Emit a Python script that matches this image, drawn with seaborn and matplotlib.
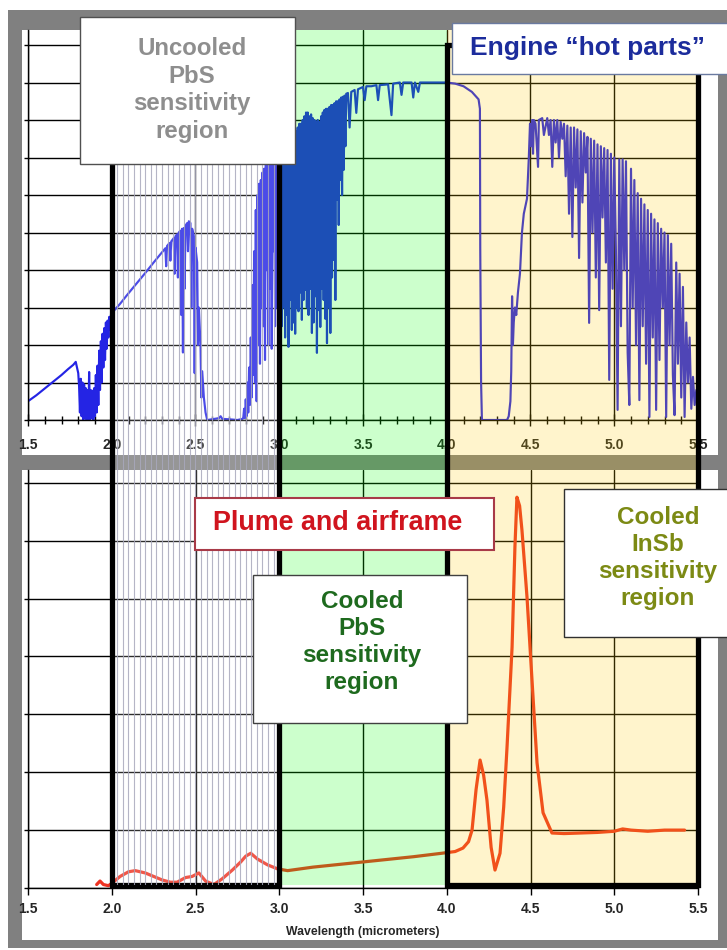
import numpy as np
import matplotlib
matplotlib.use("Agg")
import matplotlib.pyplot as plt
from matplotlib.patches import Rectangle
from matplotlib import font_manager
import seaborn as sns

# ------------------------------------------------------------------ data
# Top panel: engine "hot parts" radiance seen through the atmosphere
hot_wl_a = [1.50, 1.55, 1.60, 1.65, 1.70, 1.74, 1.77, 1.785, 1.80]
hot_val_a = [0.50, 0.66, 0.84, 1.02, 1.20, 1.36, 1.47, 1.55, 1.25]

hot_span_b = (1.805, 2.000)
hot_val_b = [0.9, 0.2, 1.1, 0.1, 1.0, 0.0, 0.95, 0.05, 0.85, 0.0, 0.8, 0.0, 1.28, 0.0,
             0.8, 0.05, 0.78, 0.0, 0.85, 0.1, 1.2, 0.2, 1.45, 0.4, 1.85, 0.8, 2.1, 1.0,
             2.3, 1.4, 2.45, 1.6, 2.6, 1.9, 2.65, 2.2, 2.75, 2.4, 2.8, 2.85]

hot_wl_c = [2.05, 2.10, 2.15, 2.20, 2.25, 2.30, 2.320, 2.325, 2.330, 2.345, 2.350, 2.355,
            2.370, 2.375, 2.380, 2.390, 2.395, 2.400, 2.410, 2.415, 2.420, 2.425, 2.430,
            2.435, 2.440, 2.450, 2.455, 2.460, 2.470, 2.475, 2.480, 2.490, 2.495, 2.500,
            2.510, 2.515, 2.520, 2.530, 2.535, 2.540, 2.550, 2.560, 2.570, 2.60, 2.64,
            2.65, 2.66, 2.70, 2.75, 2.78]
hot_val_c = [3.10, 3.38, 3.65, 3.92, 4.20, 4.47, 4.58, 4.10, 4.64, 4.72, 4.25, 4.76,
             4.85, 3.90, 4.90, 4.95, 3.80, 5.00, 5.05, 2.80, 5.10, 1.80, 5.12,
             3.50, 5.18, 5.25, 4.50, 5.30, 5.25, 3.00, 5.10, 4.90, 1.25, 4.60,
             4.20, 2.00, 3.00, 2.00, 0.60, 1.30, 0.60, 0.20, 0.00, 0.02, 0.05,
             0.10, 0.03, 0.02, 0.00, 0.03]

hot_span_e = (2.785, 3.000)
hot_val_e = [0.05, 0.30, 0.05, 0.55, 0.10, 1.00, 0.20, 1.40, 0.40, 2.20,
             0.60, 3.60, 1.20, 4.50, 1.00, 5.60, 0.50, 6.00, 2.00, 6.30,
             1.50, 6.40, 3.00, 6.60, 2.50, 6.70, 1.60, 6.80, 4.00, 6.90,
             2.00, 7.00, 3.50, 6.90, 1.90, 7.00, 4.50, 7.10, 2.50, 7.00,
             3.00, 7.05, 3.50, 7.00]

hot_span_f = (3.005, 3.400)
hot_val_f = [3.5, 6.9, 2.5, 6.8, 3.0, 6.8, 2.2, 6.9, 2.8, 6.8,
             1.95, 6.9, 3.2, 6.9, 2.4, 7.2, 2.6, 7.5, 2.3, 7.7,
             3.0, 7.8, 2.9, 7.9, 3.4, 7.9, 2.67, 8.0, 3.2, 8.1,
             3.47, 8.2, 3.0, 8.2, 2.8, 8.1, 3.5, 8.15, 2.32, 8.05,
             2.6, 8.0, 3.3, 7.95, 1.79, 8.0, 2.93, 7.95, 2.48, 8.1,
             3.5, 8.2, 3.2, 8.27, 2.7, 8.3, 2.05, 8.3, 3.0, 8.35,
             2.32, 8.4, 3.8, 8.4, 4.27, 8.45, 3.2, 8.5, 5.87, 8.5,
             5.2, 8.55, 6.4, 8.6, 6.0, 8.62, 6.67, 8.65, 7.3, 8.7]

hot_wl_g = [3.41, 3.42, 3.43, 3.45, 3.46, 3.47, 3.50, 3.51, 3.52, 3.55, 3.58, 3.59,
            3.60, 3.65, 3.67, 3.68, 3.72, 3.73, 3.74, 3.79, 3.80, 3.81, 3.83, 3.84,
            3.90, 3.95, 4.00, 4.05, 4.10, 4.15, 4.19, 4.198, 4.20, 4.205, 4.21, 4.30, 4.36]
hot_val_g = [8.72, 7.80, 8.75, 8.80, 8.19, 8.82, 8.88, 8.53, 8.90, 8.90, 8.93, 8.53,
             8.93, 8.95, 8.13, 8.97, 9.00, 8.67, 9.00, 9.00, 8.60, 9.00, 8.75, 9.00,
             9.00, 9.00, 9.00, 8.97, 8.90, 8.75, 8.55, 8.30, 4.60, 1.00, 0.00, 0.00, 0.00]

hot_wl_i = [4.37, 4.38, 4.385, 4.39, 4.395, 4.40, 4.407, 4.415, 4.425, 4.437, 4.449, 4.46,
            4.479, 4.49, 4.497, 4.505, 4.51, 4.515, 4.52, 4.53, 4.545, 4.55, 4.57, 4.58]
hot_val_i = [0.10, 0.50, 1.30, 3.30, 2.00, 2.60, 3.00, 2.80, 3.40, 3.90, 5.00, 5.50,
             5.90, 7.00, 7.90, 7.30, 8.00, 7.10, 8.00, 7.90, 6.75, 8.00, 8.05, 7.60]

hot_span_j = (4.60, 5.50)
hot_val_j = [8.05, 7.6, 8.0, 6.75, 8.0, 7.4, 8.0, 7.0, 7.95, 7.5,
             7.9, 6.5, 7.85, 5.5, 7.8, 4.88, 7.8, 6.2, 7.75, 4.32,
             7.7, 5.8, 7.65, 6.6, 7.55, 2.59, 7.5, 5.0, 7.45, 3.8,
             7.35, 2.93, 7.3, 5.4, 7.25, 4.2, 7.2, 1.07, 7.1, 3.5,
             7.0, 4.5, 0.27, 6.95, 2.5, 6.95, 4.0, 6.9, 1.8, 0.4,
             6.7, 3.0, 6.4, 2.0, 6.05, 0.53, 5.9, 2.5, 5.75, 1.5,
             5.6, 0.08, 5.5, 2.2, 5.35, 0.27, 5.25, 1.6, 5.1, 3.0,
             5.0, 0.08, 4.93, 2.0, 4.7, 1.2, 0.13, 4.2, 1.5, 3.9,
             0.6, 3.55, 0.08, 2.6, 1.0, 2.2, 0.3, 1.15, 0.4, 0.8, 0.5]

# Bottom panel: plume and airframe emission
plume_wl = [1.91, 1.93, 1.95, 1.98, 2.00, 2.05, 2.10, 2.14, 2.20, 2.25,
            2.30, 2.35, 2.39, 2.44, 2.48, 2.52, 2.56, 2.61, 2.66, 2.72,
            2.77, 2.80, 2.83, 2.87, 2.93, 2.99, 3.05, 3.20, 3.40, 3.60,
            3.80, 3.97, 4.05, 4.097, 4.13, 4.151, 4.175, 4.199, 4.22, 4.24,
            4.265, 4.288, 4.318, 4.34, 4.36, 4.39, 4.407, 4.419, 4.435, 4.449,
            4.479, 4.509, 4.539, 4.575, 4.628, 4.70, 4.80, 4.90, 5.00, 5.05,
            5.10, 5.20, 5.30, 5.42]
plume_val = [0.06, 0.12, 0.06, 0.04, 0.08, 0.20, 0.28, 0.30, 0.26, 0.20,
             0.14, 0.10, 0.10, 0.18, 0.20, 0.26, 0.12, 0.06, 0.16, 0.31,
             0.45, 0.55, 0.60, 0.50, 0.40, 0.33, 0.30, 0.36, 0.42, 0.48,
             0.54, 0.60, 0.63, 0.69, 0.80, 1.00, 1.70, 2.21, 1.95, 1.52,
             0.70, 0.31, 0.60, 1.40, 2.44, 4.16, 5.89, 6.75, 6.60, 6.18,
             5.03, 3.59, 2.16, 1.30, 0.95, 0.94, 0.95, 0.96, 0.98, 1.02,
             1.00, 0.98, 1.00, 1.00]

# Detector sensitivity regions
region_start = [2.0, 3.0, 4.0]
region_end = [3.0, 4.0, 5.5]

x_ticks = [1.5, 2.0, 2.5, 3.0, 3.5, 4.0, 4.5, 5.0, 5.5]
x_tick_labels = ["1.5", "2.0", "2.5", "3.0", "3.5", "4.0", "4.5", "5.0", "5.5"]
x_label = "Wavelength (micrometers)"

label_uncooled = "Uncooled\nPbS\nsensitivity\nregion"
label_engine = "Engine \u201chot parts\u201d"
label_plume = "Plume and airframe"
label_pbs = "Cooled\nPbS\nsensitivity\nregion"
label_insb = "Cooled\nInSb\nsensitivity\nregion"

# ------------------------------------------------------------------ assemble series
hot_wl = np.concatenate([hot_wl_a,
                         np.linspace(*hot_span_b, len(hot_val_b)),
                         hot_wl_c,
                         np.linspace(*hot_span_e, len(hot_val_e)),
                         np.linspace(*hot_span_f, len(hot_val_f)),
                         hot_wl_g, hot_wl_i,
                         np.linspace(*hot_span_j, len(hot_val_j))])
hot_val = np.concatenate([hot_val_a, hot_val_b, hot_val_c, hot_val_e, hot_val_f,
                          hot_val_g, hot_val_i, hot_val_j])

# ------------------------------------------------------------------ style
sns.set_theme(style="white")
plt.rcParams["font.family"] = ["Liberation Sans", "DejaVu Sans"]
installed = {f.name for f in font_manager.fontManager.ttflist}
narrow = "Liberation Sans Narrow" if "Liberation Sans Narrow" in installed else "Liberation Sans"

W, H = 727, 950
fig = plt.figure(figsize=(W / 100, H / 100), dpi=100)
fig.patch.set_facecolor("white")


def fx(x):
    return x / W


def fy(y):
    return 1 - y / H


def fig_rect(x0, y0, x1, y1, **kw):
    r = Rectangle((fx(x0), fy(y1)), fx(x1) - fx(x0), fy(y0) - fy(y1),
                  transform=fig.transFigure, **kw)
    fig.add_artist(r)
    return r


# grey frame and white panels
fig_rect(8, 10, 727, 948, facecolor="#808080", edgecolor="none", zorder=-10)
fig_rect(22, 30, 718, 455, facecolor="white", edgecolor="none", zorder=-9)
fig_rect(22, 470, 718, 940, facecolor="white", edgecolor="none", zorder=-9)

ax_top = fig.add_axes([fx(28), fy(420), fx(698) - fx(28), fy(30) - fy(420)])
ax_bot = fig.add_axes([fx(28), fy(888), fx(698) - fx(28), fy(470) - fy(888)])

sns.lineplot(x=hot_wl, y=hot_val, ax=ax_top, color="#2424e4", lw=1.55,
             estimator=None, sort=False, legend=False)
sns.lineplot(x=plume_wl, y=plume_val, ax=ax_bot, color="#ee3322", lw=2.3,
             estimator=None, sort=False, legend=False)

for ax in (ax_top, ax_bot):
    ax.set_facecolor("none")
    ax.set_xlim(1.5, 5.5)
    for s in ("top", "right"):
        ax.spines[s].set_visible(False)
    for s in ("left", "bottom"):
        ax.spines[s].set_color("black")
        ax.spines[s].set_linewidth(1.0)
    ax.set_axisbelow(True)
    ax.grid(True, which="major", color="black", lw=1.0)
    ax.set_xticks(x_ticks)
    ax.set_xticklabels(x_tick_labels, fontfamily=narrow, fontweight="bold", fontsize=10)
    ax.set_ylabel("")
    ax.tick_params(axis="y", which="major", direction="out", length=3, width=1,
                   color="black", labelleft=False, left=True)

ax_top.set_ylim(0, 10.4)
ax_top.set_yticks(range(0, 11))
ax_top.set_xticks(np.arange(1.5, 5.51, 0.1), minor=True)
ax_top.tick_params(axis="x", which="major", direction="inout", length=8, width=1,
                   color="black", pad=9, bottom=True)
ax_top.tick_params(axis="x", which="minor", direction="inout", length=6, width=1,
                   color="black", bottom=True)
ax_top.set_xlabel("")

ax_bot.set_ylim(0, 7.22)
ax_bot.set_yticks(range(0, 8))
ax_bot.tick_params(axis="x", which="major", direction="out", length=5, width=1,
                   color="black", pad=5, bottom=True)
ax_bot.set_xlabel(x_label, fontfamily=narrow, fontweight="bold", fontsize=8.8, labelpad=7)

# ------------------------------------------------------------------ region overlay
ax_ov = fig.add_axes([fx(28), fy(885), fx(698) - fx(28), fy(30) - fy(885)])
ax_ov.set_zorder(5)
ax_ov.patch.set_alpha(0)
ax_ov.set_xlim(1.5, 5.5)
ax_ov.set_ylim(0, 1)
ax_ov.axis("off")

ax_ov.axvspan(region_start[0], region_end[0], color="white", alpha=0.18, lw=0)
hatch = np.arange(region_start[0] + 1 / 30, region_end[0] - 1e-6, 1 / 30)
ax_ov.vlines(hatch, 0, 1, color="#a8a8bc", lw=0.8, alpha=0.85)
ax_ov.axvspan(region_start[1], region_end[1], color=(0.0, 1.0, 0.0), alpha=0.2, lw=0)
ax_ov.axvspan(region_start[2], region_end[2], color=(1.0, 0.8, 0.0), alpha=0.2, lw=0)
top_frac = (885 - 45) / (885 - 30)
for i in (0, 2):
    ax_ov.add_patch(Rectangle((region_start[i], 0), region_end[i] - region_start[i], top_frac,
                              fill=False, edgecolor="black", lw=3.8, clip_on=False,
                              joinstyle="miter"))

# ------------------------------------------------------------------ text boxes
def text_box(x0, y0, x1, y1, tx, ty, text, color, size, edge, lw=1.0, ls=1.28):
    fig_rect(x0, y0, x1, y1, facecolor="white", edgecolor=edge, lw=lw, zorder=10)
    fig.text(fx(tx), fy(ty), text, color=color, fontsize=size, fontweight="bold",
             ha="center", va="center", multialignment="center", linespacing=ls,
             zorder=11)


text_box(80, 17, 295, 164, 192, 90, label_uncooled, "#8e8e8e", 17.3, "#505050", ls=1.27)
text_box(452, 23, 740, 74, 587, 48, label_engine, "#1c2c9c", 19, "#6a7aa0")
text_box(195, 498, 494, 550, 338, 523, label_plume, "#d0141e", 19.4, "#a83a48", 1.5)
text_box(253, 575, 467, 723, 362, 642, label_pbs, "#1e6a1e", 17.5, "#404040", ls=1.24)
text_box(564, 489, 740, 637, 658, 558, label_insb, "#7c8a14", 17.5, "#303030", ls=1.24)

fig.savefig("out.png", dpi=100, facecolor="white")
